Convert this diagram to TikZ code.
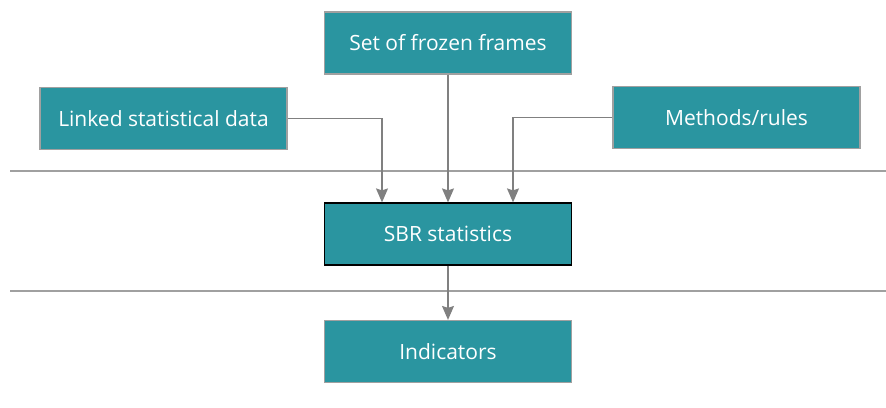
\documentclass[tikz,border=0pt]{standalone}
\usepackage{fontspec}
\setmainfont{Open Sans}
\usetikzlibrary{arrows.meta}
\definecolor{teal1}{RGB}{42,149,160}
\definecolor{bord}{RGB}{160,160,160}
\definecolor{arr}{RGB}{128,128,128}
\begin{document}
\begin{tikzpicture}[x=1pt,y=-1pt,
  box/.style={draw=bord, line width=1.2pt, fill=teal1, text=white, minimum width=247pt, minimum height=62pt, inner sep=0pt, font=\fontsize{21}{24}\selectfont},
  conn/.style={draw=arr, line width=1.3pt, -{Stealth[length=14pt,width=12pt,inset=2pt]}},
  sep/.style={draw=bord, line width=1.3pt}]
\useasboundingbox (0,0) rectangle (886,407);
\node[box] (frozen) at (448,43) {Set of frozen frames};
\node[box] (linked) at (163.5,118.5) {Linked statistical data};
\node[box] (methods) at (736.5,117.5) {Methods/rules};
\node[box, draw=black] (sbr) at (448,234) {SBR statistics};
\node[box] (ind) at (448,351.5) {Indicators};
\coordinate (l1a) at (10,171);
\coordinate (l1b) at (886,171);
\coordinate (l2a) at (10,291);
\coordinate (l2b) at (886,291);
\draw[sep] (l1a) -- (l1b);
\draw[sep] (l2a) -- (l2b);
\draw[conn] (linked.east) -| ([xshift=-66pt]sbr.north);
\draw[conn] (frozen.south) -- (sbr.north);
\draw[conn] (methods.west) -| ([xshift=65pt]sbr.north);
\draw[conn] (sbr.south) -- (ind.north);
\end{tikzpicture}
\end{document}
